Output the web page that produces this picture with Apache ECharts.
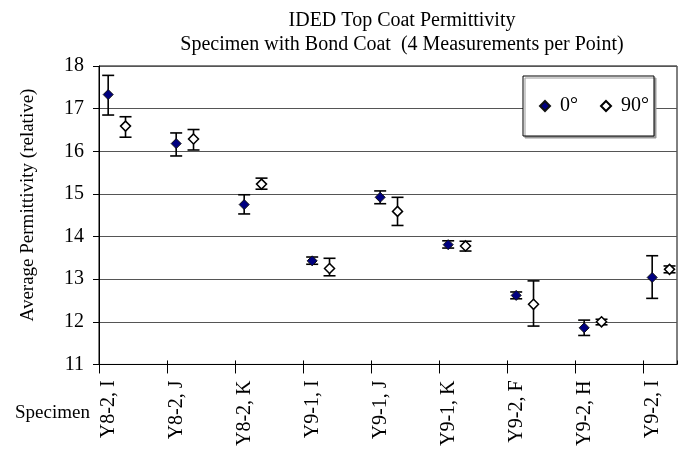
<!DOCTYPE html>
<html>
<head>
<meta charset="utf-8">
<script src="https://cdn.jsdelivr.net/npm/echarts@6/dist/echarts.min.js"></script>
<style>
html,body{margin:0;padding:0;background:#fff;}
#chart{width:686px;height:449px;}
</style>
</head>
<body>
<div id="chart"></div>
<script>
// ---- data ----
var categories = ['Y8-2, I','Y8-2, J','Y8-2, K','Y9-1, I','Y9-1, J','Y9-1, K','Y9-2, F','Y9-2, H','Y9-2, I'];
var mean0  = [17.33, 16.18, 14.75, 13.43, 14.92, 13.81, 12.62, 11.86, 13.04];
var low0   = [16.85, 15.89, 14.53, 13.35, 14.77, 13.73, 12.54, 11.68, 12.55];
var high0  = [17.78, 16.43, 14.98, 13.52, 15.07, 13.90, 12.70, 12.04, 13.55];
var mean90 = [16.59, 16.29, 15.23, 13.25, 14.59, 13.78, 12.41, 12.00, 13.23];
var low90  = [16.33, 16.03, 15.11, 13.08, 14.26, 13.66, 11.90, 11.93, 13.15];
var high90 = [16.81, 16.51, 15.37, 13.49, 14.92, 13.89, 12.96, 12.06, 13.31];
var yTicks = [11, 12, 13, 14, 15, 16, 17, 18];

var FONT = '"Liberation Serif", "DejaVu Serif", serif';
var OFF0 = 0.135, OFF90 = 0.39;

function pts(vals, off) { return vals.map(function (v, i) { return [i + off, v]; }); }
function bars(lo, hi, off) { return lo.map(function (v, i) { return [i + off, v, hi[i]]; }); }

function errRender(params, api) {
  var x = api.value(0);
  var p1 = api.coord([x, api.value(1)]);
  var p2 = api.coord([x, api.value(2)]);
  var hw = 6;
  var st = { stroke: '#000', lineWidth: 1.6 };
  return { type: 'group', children: [
    { type: 'line', shape: { x1: p1[0], y1: p1[1], x2: p2[0], y2: p2[1] }, style: st },
    { type: 'line', shape: { x1: p1[0] - hw, y1: p1[1], x2: p1[0] + hw, y2: p1[1] }, style: st },
    { type: 'line', shape: { x1: p2[0] - hw, y1: p2[1], x2: p2[0] + hw, y2: p2[1] }, style: st }
  ]};
}

var chart = echarts.init(document.getElementById('chart'), null, { renderer: 'canvas' });
chart.setOption({
  animation: false,
  backgroundColor: '#fff',
  textStyle: { fontFamily: FONT },
  title: {
    text: 'IDED Top Coat Permittivity\nSpecimen with Bond Coat  (4 Measurements per Point)',
    left: 397, top: 4, textAlign: 'center',
    textStyle: { fontFamily: FONT, fontSize: 20, fontWeight: 'normal', color: '#000', lineHeight: 24 }
  },
  grid: { left: 99, right: 9, top: 66, bottom: 83, show: true, borderColor: '#000', borderWidth: 1, backgroundColor: 'transparent' },
  legend: {
    left: 523, top: 76,
    padding: [20, 5, 20, 16],
    itemGap: 22, itemWidth: 10, itemHeight: 10,
    backgroundColor: '#fff', borderColor: '#000', borderWidth: 1,
    shadowColor: '#999', shadowOffsetX: 2, shadowOffsetY: 2, shadowBlur: 0,
    textStyle: { fontFamily: FONT, fontSize: 20, color: '#000', padding: [0, 0, 0, 5] },
    data: [{ name: '0°' }, { name: '90°' }]
  },
  xAxis: [{
    type: 'value', min: 0, max: 8.5, interval: 1,
    axisLine: { show: true, onZero: false, lineStyle: { color: '#000', width: 1 } },
    axisTick: { show: true, length: 9, lineStyle: { color: '#000' } },
    splitLine: { show: false },
    axisLabel: {
      rotate: 90, margin: 16, fontFamily: FONT, fontSize: 20, color: '#000', verticalAlign: 'top',
      showMaxLabel: false,
      formatter: function (v) { var i = Math.round(v); return (Math.abs(v - i) < 1e-6 && categories[i]) ? categories[i] : ''; }
    }
  }, {
    type: 'value', position: 'bottom', min: 0, max: 8.5, interval: 1,
    axisLine: { show: false },
    axisTick: { show: true, inside: true, length: 4, lineStyle: { color: '#000' } },
    axisLabel: { show: false }, splitLine: { show: false }
  }],
  yAxis: {
    type: 'value', min: yTicks[0], max: yTicks[yTicks.length - 1], interval: 1,
    axisLine: { show: true, onZero: false, lineStyle: { color: '#000', width: 1 } },
    axisTick: { show: true, length: 6, lineStyle: { color: '#000' } },
    splitLine: { show: true, lineStyle: { color: '#555', width: 1 } },
    axisLabel: { margin: 15, fontFamily: FONT, fontSize: 20, color: '#000' }
  },
  graphic: [
    { type: 'text', x: 28, y: 205, rotation: Math.PI / 2,
      style: { text: 'Average Permittivity (relative)', font: '19px ' + FONT, fill: '#000', align: 'center', verticalAlign: 'middle' } },
    { type: 'text', x: 15, y: 413,
      style: { text: 'Specimen', font: '19px ' + FONT, fill: '#000', align: 'left', verticalAlign: 'middle' } }
  ],
  series: [
    { type: 'custom', name: 'err0', renderItem: errRender, data: bars(low0, high0, OFF0), z: 2, silent: true },
    { type: 'custom', name: 'err90', renderItem: errRender, data: bars(low90, high90, OFF90), z: 2, silent: true },
    { type: 'scatter', name: '0°', symbol: 'diamond', symbolSize: 10, z: 5,
      itemStyle: { color: '#000080', borderColor: '#111', borderWidth: 1, opacity: 1 },
      data: pts(mean0, OFF0) },
    { type: 'scatter', name: '90°', symbol: 'diamond', symbolSize: 10, z: 5,
      itemStyle: { color: '#fff', borderColor: '#000', borderWidth: 1.5, opacity: 1 },
      data: pts(mean90, OFF90) }
  ]
});
</script>
</body>
</html>
